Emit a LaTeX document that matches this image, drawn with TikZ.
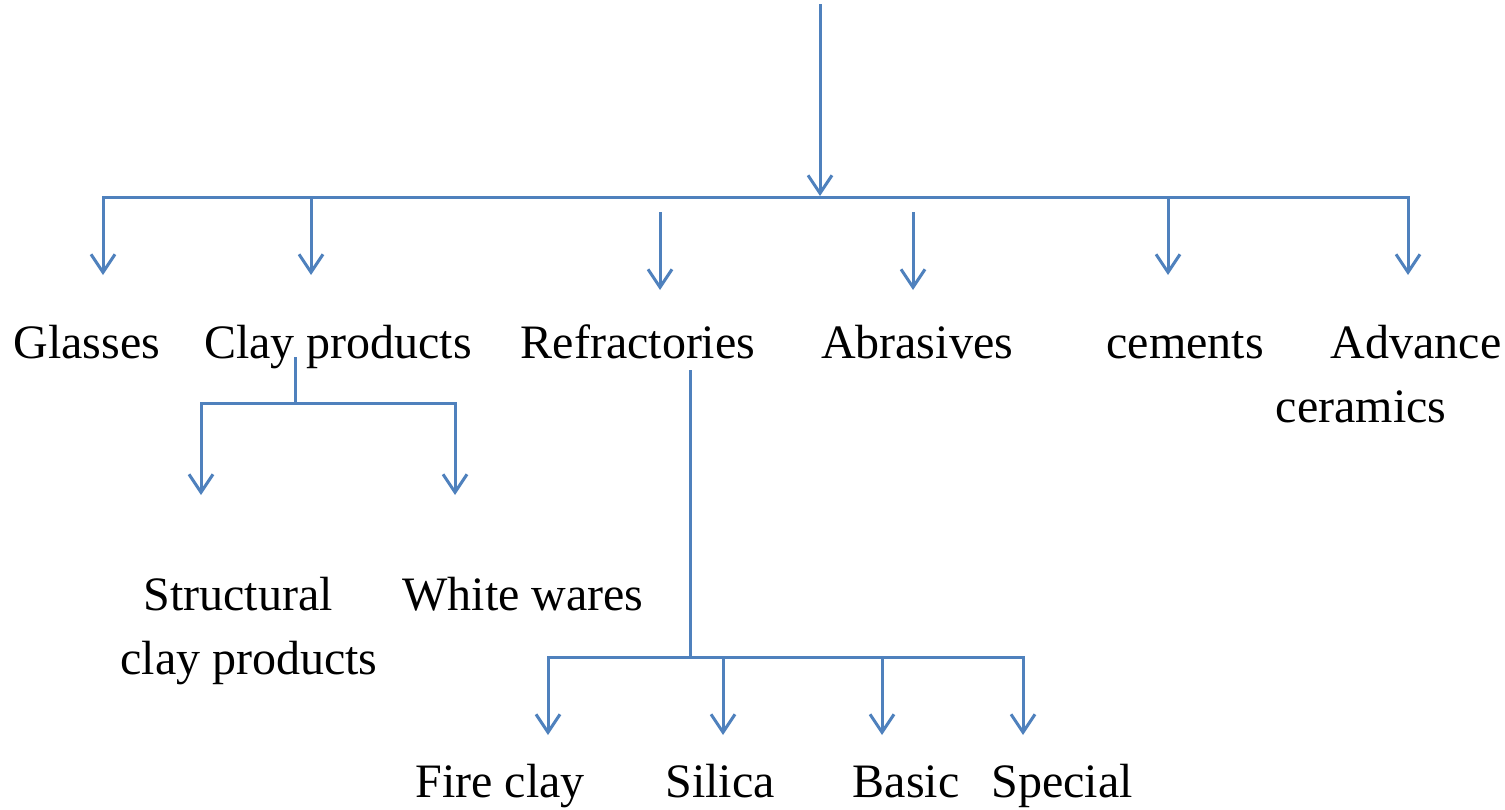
\documentclass[tikz,border=0pt]{standalone}
\usepackage{fontspec}
\setmainfont{Liberation Serif}
\usetikzlibrary{arrows.meta}
\definecolor{lineblue}{HTML}{4F81BD}
\begin{document}
\begin{tikzpicture}[x=1pt,y=-1pt,
  conn/.style={draw=lineblue,line width=3pt,line join=miter},
  tip/.style={Straight Barb[length=18pt,width=24pt,line width=3pt]},
  arr/.style={conn,-{Straight Barb[length=18pt,width=24pt,line width=3pt]}},
  barr/.style={conn,{Straight Barb[length=18pt,width=24pt,line width=3pt]}-{Straight Barb[length=18pt,width=24pt,line width=3pt]}},
  lab/.style={anchor=base,inner sep=0pt,font=\fontsize{48}{58}\selectfont},
]
\useasboundingbox (0,0) rectangle (1505,809);

% labels
\node[lab] (glasses) at (87,358) {Glasses};
\node[lab] (clay) at (338,358) {Clay products};
\node[lab] (refr) at (638,358) {Refractories};
\node[lab] (abr) at (917,358) {Abrasives};
\node[lab] (cem) at (1185,358) {cements};
\node[lab] (adv1) at (1416,358) {Advance};
\node[lab] (adv2) at (1361,422) {ceramics};
\node[lab] (struct1) at (238,610) {Structural};
\node[lab] (struct2) at (249,674) {clay products};
\node[lab] (white) at (523,610) {White wares};
\node[lab] (fire) at (500,797) {Fire clay};
\node[lab] (silica) at (720,797) {Silica};
\node[lab] (basic) at (906,797) {Basic};
\node[lab] (special) at (1062,797) {Special};

% coordinates
\coordinate (top) at (820,4);
\coordinate (hub) at (820,196);
\coordinate (l1) at (103,197);
\coordinate (l1e) at (103,275);
\coordinate (l2) at (311,197);
\coordinate (l2e) at (311,275);
\coordinate (l5) at (1168,197);
\coordinate (l5e) at (1168,275);
\coordinate (l6) at (1408,197);
\coordinate (l6e) at (1408,275);
\coordinate (r1) at (660,212);
\coordinate (r1e) at (660,290);
\coordinate (a1) at (913,212);
\coordinate (a1e) at (913,290);

\coordinate (cs) at (295,357);
\coordinate (cj) at (295,403);
\coordinate (c1) at (201,403);
\coordinate (c1e) at (201,495);
\coordinate (c2) at (455,403);
\coordinate (c2e) at (455,495);

\coordinate (rs) at (690,370);
\coordinate (rj) at (690,657);
\coordinate (f1) at (548,657);
\coordinate (f1e) at (548,735);
\coordinate (f2) at (723,657);
\coordinate (f2e) at (723,735);
\coordinate (f3) at (882,657);
\coordinate (f3e) at (882,735);
\coordinate (f4) at (1023,657);
\coordinate (f4e) at (1023,735);

% top level
\draw[arr] (top) -- (hub);
\draw[barr] (l1e) -- (l1) -- (l6) -- (l6e);
\draw[arr] (l2) -- (l2e);
\draw[arr] (l5) -- (l5e);
\draw[arr] (r1) -- (r1e);
\draw[arr] (a1) -- (a1e);

% clay products
\draw[conn] (cs) -- (cj);
\draw[barr] (c1e) -- (c1) -- (c2) -- (c2e);

% refractories
\draw[conn] (rs) -- (rj);
\draw[barr] (f1e) -- (f1) -- (f4) -- (f4e);
\draw[arr] (f2) -- (f2e);
\draw[arr] (f3) -- (f3e);
\end{tikzpicture}
\end{document}
